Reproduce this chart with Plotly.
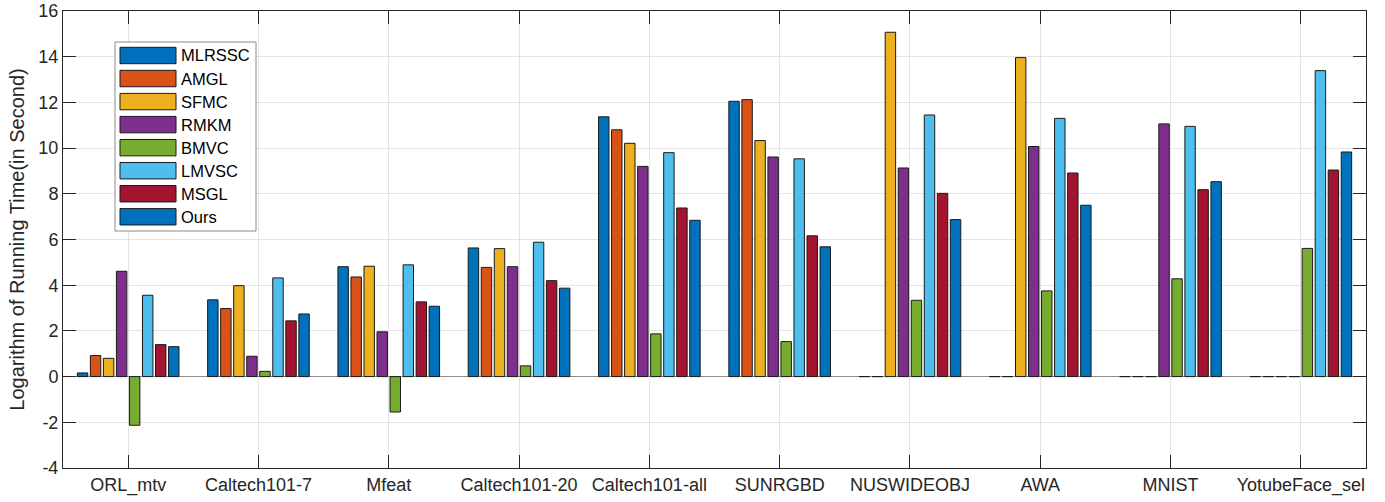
import plotly.graph_objects as go

categories = ["ORL_mtv", "Caltech101-7", "Mfeat", "Caltech101-20", "Caltech101-all",
              "SUNRGBD", "NUSWIDEOBJ", "AWA", "MNIST", "YotubeFace_sel"]

MLRSSC = [0.16, 3.36, 4.81, 5.63, 11.37, 12.05, 0, 0, 0, 0]
AMGL   = [0.92, 2.98, 4.36, 4.78, 10.80, 12.12, 0, 0, 0, 0]
SFMC   = [0.80, 3.98, 4.83, 5.60, 10.21, 10.33, 15.07, 13.96, 0, 0]
RMKM   = [4.61, 0.89, 1.96, 4.81, 9.20, 9.61, 9.13, 10.07, 11.06, 0]
BMVC   = [-2.13, 0.23, -1.55, 0.47, 1.87, 1.53, 3.34, 3.75, 4.28, 5.61]
LMVSC  = [3.56, 4.32, 4.89, 5.88, 9.80, 9.53, 11.45, 11.30, 10.95, 13.39]
MSGL   = [1.40, 2.44, 3.27, 4.20, 7.38, 6.16, 8.02, 8.91, 8.18, 9.04]
Ours   = [1.31, 2.74, 3.08, 3.87, 6.84, 5.68, 6.87, 7.50, 8.53, 9.83]

series_names = ["MLRSSC", "AMGL", "SFMC", "RMKM", "BMVC", "LMVSC", "MSGL", "Ours"]
series_values = [MLRSSC, AMGL, SFMC, RMKM, BMVC, LMVSC, MSGL, Ours]
colors = ["#0072BD", "#D95319", "#EDB120", "#7E2F8E", "#77AC30", "#4DBEEE", "#A2142F", "#0072BD"]

y_ticks = [-4, -2, 0, 2, 4, 6, 8, 10, 12, 14, 16]

FONT = "Liberation Sans, Arial, Helvetica, sans-serif"
W, H = 1385, 502
L, R, T, B = 63, 19, 11, 34
pw, ph = W - L - R, H - T - B

fig = go.Figure()
for name, vals, col in zip(series_names, series_values, colors):
    fig.add_trace(go.Bar(
        x=categories, y=vals, name=name,
        marker=dict(color=col, line=dict(color="#1a1a1a", width=1)),
        showlegend=False,
    ))

# custom MATLAB-like legend
def px2x(px):
    return (px - L) / pw

def py2y(py):
    return (H - B - py) / ph

shapes = [dict(type="rect", xref="paper", yref="paper",
               x0=px2x(115), x1=px2x(256), y0=py2y(231), y1=py2y(42),
               line=dict(color="#8a8a8a", width=1), fillcolor="white", layer="above")]
annotations = []
for i, (name, col) in enumerate(zip(series_names, colors)):
    cy = 55.5 + 23.04 * i
    shapes.append(dict(type="rect", xref="paper", yref="paper",
                       x0=px2x(120), x1=px2x(176), y0=py2y(cy + 8.2), y1=py2y(cy - 8.2),
                       line=dict(color="#1a1a1a", width=1), fillcolor=col, layer="above"))
    annotations.append(dict(xref="paper", yref="paper", x=px2x(179), y=py2y(cy),
                            xanchor="left", yanchor="middle", text=name, showarrow=False,
                            font=dict(family=FONT, size=16.5, color="#000000")))

fig.update_layout(
    width=W, height=H,
    margin=dict(l=L, r=R, t=T, b=B),
    paper_bgcolor="white", plot_bgcolor="white",
    barmode="group", bargap=0.2, bargroupgap=0.2,
    font=dict(family=FONT, size=18, color="#262626"),
    shapes=shapes, annotations=annotations,
    xaxis=dict(
        range=[-0.5, 9.5], showgrid=True, gridcolor="#e3e3e3", gridwidth=1,
        ticks="inside", ticklen=13, tickcolor="#262626", mirror="ticks",
        showline=True, linecolor="#262626", linewidth=1, automargin=False,
        tickfont=dict(size=18, color="#262626", family=FONT),
    ),
    yaxis=dict(
        range=[-4, 16], tickvals=y_ticks, ticktext=[str(v) for v in y_ticks],
        showgrid=True, gridcolor="#e3e3e3", gridwidth=1,
        zeroline=True, zerolinecolor="#8c8c8c", zerolinewidth=1,
        ticks="inside", ticklen=13, tickcolor="#262626", mirror="ticks",
        showline=True, linecolor="#262626", linewidth=1, automargin=False,
        tickfont=dict(size=18, color="#262626", family=FONT),
        title=dict(text="Logarithm of Running Time(in Second)", standoff=8,
                   font=dict(size=20, color="#262626", family=FONT)),
    ),
)

fig.write_html("out.html", config={"displayModeBar": False},
               post_script="document.body.style.margin='0';document.body.style.overflow='hidden';")
